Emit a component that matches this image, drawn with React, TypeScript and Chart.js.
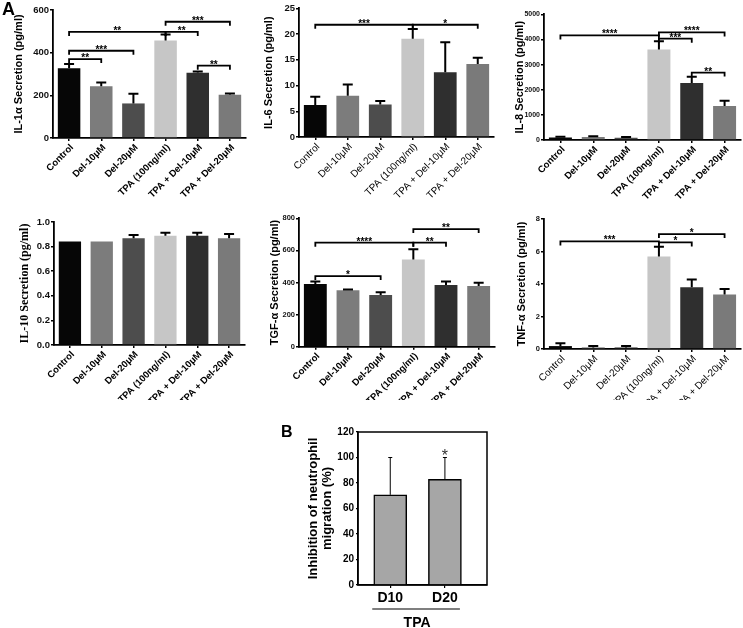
import React, { useEffect, useRef } from 'react';
import { Chart, registerables } from 'chart.js';

Chart.register(...registerables);

type Sig = [number, number, number, string];

const SANS = '"Liberation Sans", Arial, sans-serif';
const SERIF = '"Liberation Serif", "Times New Roman", serif';

const categories = ['Control', 'Del-10μM', 'Del-20μM', 'TPA (100ng/ml)', 'TPA + Del-10μM', 'TPA + Del-20μM'];
const barColors = ['#060606', '#7c7c7c', '#4d4d4d', '#c6c6c6', '#2f2f2f', '#7a7a7a'];

// IL-1α
const il1aValues = [327, 243, 162, 457, 306, 203];
const il1aSem = [20, 17, 46, 28, 6, 6];
const il1aTicks = [0, 200, 400, 600];
const il1aSig: Sig[] = [[0, 1, 370, '**'], [0, 2, 409, '***'], [0, 3, 497, '**'], [3, 4, 497, '**'], [3, 5, 545, '***'], [4, 5, 339, '**']];

// IL-6
const il6Values = [6.2, 8.0, 6.3, 19.1, 12.6, 14.2];
const il6Sem = [1.6, 2.2, 0.7, 1.9, 5.8, 1.2];
const il6Ticks = [0, 5, 10, 15, 20, 25];
const il6Sig: Sig[] = [[0, 3, 21.8, '***'], [3, 5, 21.8, '*']];

// IL-8
const il8Values = [100, 120, 90, 3600, 2270, 1350];
const il8Sem = [30, 30, 25, 330, 250, 210];
const il8Ticks = [0, 1000, 2000, 3000, 4000, 5000];
const il8Sig: Sig[] = [[0, 3, 4160, '****'], [3, 4, 4030, '***'], [3, 5, 4280, '****'], [4, 5, 2680, '**']];

// IL-10
const il10Values = [0.842, 0.841, 0.867, 0.889, 0.889, 0.867];
const il10Sem = [0, 0, 0.027, 0.024, 0.024, 0.035];
const il10Ticks = [0, 0.2, 0.4, 0.6, 0.8, 1.0];
const il10Sig: Sig[] = [];

// TGF-α
const tgfValues = [391, 351, 322, 544, 384, 378];
const tgfSem = [16, 6, 17, 63, 23, 21];
const tgfTicks = [0, 200, 400, 600, 800];
const tgfSig: Sig[] = [[0, 2, 440, '*'], [0, 3, 648, '****'], [3, 4, 648, '**'], [3, 5, 733, '**']];

// TNF-α
const tnfValues = [0.18, 0.1, 0.1, 5.7, 3.8, 3.35];
const tnfSem = [0.17, 0.08, 0.08, 0.6, 0.47, 0.35];
const tnfTicks = [0, 2, 4, 6, 8];
const tnfSig: Sig[] = [[0, 3, 6.62, '***'], [3, 4, 6.56, '*'], [3, 5, 7.07, '*']];

// Panel B
const bLabels = ['D10', 'D20'];
const bValues = [70.7, 82.8];
const bSem = [29.3, 17.2];
const bStars = ['', '*'];
const bTicks = [0, 20, 40, 60, 80, 100, 120];
const bGroupLabel = 'TPA';

interface Box { left: number; top: number; w: number; h: number }
interface Area { left: number; top: number; right: number; bottom: number }
interface PanelA {
  box: Box; area: Area; title: string; values: number[]; sem: number[]; sig: Sig[]; ticks: number[];
  titleFont: any; titlePad: number; xFont: any; yFont: any; fmt?: (v: number) => string;
}

function overlayA(p: PanelA) {
  return {
    id: 'overlayA',
    afterDatasetsDraw(chart: any) {
      const ctx = chart.ctx;
      const ys = chart.scales.y;
      const bars = chart.getDatasetMeta(0).data;
      ctx.save();
      ctx.strokeStyle = '#000';
      ctx.lineWidth = 2;
      p.values.forEach((v, i) => {
        const e = p.sem[i];
        if (!e) return;
        const x = bars[i].x;
        const y0 = ys.getPixelForValue(v);
        const y1 = ys.getPixelForValue(v + e);
        ctx.beginPath();
        ctx.moveTo(x, y0);
        ctx.lineTo(x, y1);
        ctx.moveTo(x - 5, y1);
        ctx.lineTo(x + 5, y1);
        ctx.stroke();
      });
      ctx.lineWidth = 1.8;
      ctx.fillStyle = '#000';
      ctx.font = `bold 10px ${SANS}`;
      ctx.textAlign = 'center';
      ctx.textBaseline = 'alphabetic';
      p.sig.forEach(([a, b, v, label]) => {
        const xa = bars[a].x;
        const xb = bars[b].x;
        const y = ys.getPixelForValue(v);
        ctx.beginPath();
        ctx.moveTo(xa, y + 4);
        ctx.lineTo(xa, y);
        ctx.lineTo(xb, y);
        ctx.lineTo(xb, y + 4);
        ctx.stroke();
        ctx.fillText(label, (xa + xb) / 2, y + 2);
      });
      ctx.restore();
    },
  };
}

function configA(p: PanelA): any {
  const padTop = p.area.top - p.box.top;
  const padRight = p.box.left + p.box.w - p.area.right;
  const xH = p.box.top + p.box.h - p.area.bottom;
  const yW = p.area.left - p.box.left;
  return {
    type: 'bar',
    data: {
      labels: categories,
      datasets: [{ data: p.values, backgroundColor: barColors, borderWidth: 0, barPercentage: 0.7, categoryPercentage: 1 }],
    },
    options: {
      animation: false,
      responsive: false,
      devicePixelRatio: 1,
      layout: { padding: { top: padTop, right: padRight, left: 0, bottom: 0 } },
      plugins: { legend: { display: false }, tooltip: { enabled: false } },
      scales: {
        x: {
          offset: true,
          grid: { offset: false, drawOnChartArea: false, drawTicks: true, tickLength: 3, color: '#000', lineWidth: 1.5 },
          border: { color: '#000', width: 1.8 },
          ticks: { autoSkip: false, minRotation: 45, maxRotation: 45, color: '#000', font: p.xFont, padding: 1, labelOffset: 3 },
          afterFit: (s: any) => { s.height = xH; },
        },
        y: {
          min: p.ticks[0],
          max: p.ticks[p.ticks.length - 1],
          ticks: {
            stepSize: p.ticks[1] - p.ticks[0],
            color: '#111',
            font: p.yFont,
            padding: 1,
            callback: (v: number) => (p.fmt ? p.fmt(v) : String(v)),
          },
          grid: { drawOnChartArea: false, drawTicks: true, tickLength: 3, color: '#000', lineWidth: 1.5 },
          border: { color: '#000', width: 1.8 },
          title: { display: true, text: p.title, color: '#000', font: p.titleFont, padding: { top: p.titlePad, bottom: 0 } },
          afterFit: (s: any) => { s.width = yW; },
        },
      },
    },
    plugins: [overlayA(p)],
  };
}

const boldX = { family: SANS, size: 9.5, weight: 'bold' };
const normX = { family: SANS, size: 10, weight: 'normal' };
const boldY = { family: SANS, size: 9.5, weight: 'bold' };
const smallY = { family: SANS, size: 7, weight: 'bold' };
const titleF = { family: SANS, size: 11, weight: 'bold' };

const panels: PanelA[] = [
  { box: { left: 0, top: 0, w: 250, h: 200 }, area: { left: 53, top: 10, right: 246, bottom: 138 }, title: 'IL-1α Secretion (pg/ml)',
    values: il1aValues, sem: il1aSem, sig: il1aSig, ticks: il1aTicks, titleFont: titleF, titlePad: 12.4, xFont: boldX, yFont: boldY },
  { box: { left: 250, top: 0, w: 250, h: 200 }, area: { left: 299, top: 8.3, right: 494, bottom: 137 }, title: 'IL-6 Secretion (pg/ml)',
    values: il6Values, sem: il6Sem, sig: il6Sig, ticks: il6Ticks, titleFont: titleF, titlePad: 12.4, xFont: normX, yFont: boldY },
  { box: { left: 495, top: 0, w: 248, h: 200 }, area: { left: 544, top: 14.3, right: 741, bottom: 140 }, title: 'IL-8 Secretion (pg/ml)',
    values: il8Values, sem: il8Sem, sig: il8Sig, ticks: il8Ticks, titleFont: titleF, titlePad: 18.4, xFont: boldX, yFont: smallY },
  { box: { left: 0, top: 200, w: 250, h: 200 }, area: { left: 54, top: 222, right: 245, bottom: 345 }, title: 'IL-10 Secretion (pg/ml)',
    values: il10Values, sem: il10Sem, sig: il10Sig, ticks: il10Ticks, titleFont: { family: SERIF, size: 12, weight: 'bold' }, titlePad: 18,
    xFont: boldX, yFont: boldY, fmt: (v: number) => v.toFixed(1) },
  { box: { left: 250, top: 200, w: 250, h: 200 }, area: { left: 299, top: 218.3, right: 495, bottom: 346.7 }, title: 'TGF-α Secretion (pg/ml)',
    values: tgfValues, sem: tgfSem, sig: tgfSig, ticks: tgfTicks, titleFont: titleF, titlePad: 18.4, xFont: boldX, yFont: { family: SANS, size: 7.5, weight: 'bold' } },
  { box: { left: 495, top: 200, w: 248, h: 200 }, area: { left: 544, top: 219, right: 741, bottom: 349 }, title: 'TNF-α Secretion (pg/ml)',
    values: tnfValues, sem: tnfSem, sig: tnfSig, ticks: tnfTicks, titleFont: titleF, titlePad: 20.4, xFont: normX, yFont: { family: SANS, size: 7.5, weight: 'bold' } },
];

const bBox: Box = { left: 230, top: 400, w: 280, h: 228 };
const bArea: Area = { left: 358, top: 432, right: 487, bottom: 585 };

function configB(): any {
  const padTop = bArea.top - bBox.top;
  const padRight = bBox.left + bBox.w - bArea.right;
  const xH = bBox.top + bBox.h - bArea.bottom;
  const yW = bArea.left - bBox.left;
  const overlay = {
    id: 'overlayB',
    afterDatasetsDraw(chart: any) {
      const ctx = chart.ctx;
      const ys = chart.scales.y;
      const xs = chart.scales.x;
      const bars = chart.getDatasetMeta(0).data;
      const ca = chart.chartArea;
      ctx.save();
      ctx.strokeStyle = '#000';
      ctx.lineWidth = 1;
      bValues.forEach((v, i) => {
        const x = bars[i].x;
        const y0 = ys.getPixelForValue(v);
        const y1 = ys.getPixelForValue(v + bSem[i]);
        ctx.beginPath();
        ctx.moveTo(x, y0);
        ctx.lineTo(x, y1);
        ctx.moveTo(x - 2, y1);
        ctx.lineTo(x + 2, y1);
        ctx.stroke();
        if (bStars[i]) {
          ctx.fillStyle = '#333';
          ctx.font = `16px ${SANS}`;
          ctx.textAlign = 'center';
          ctx.textBaseline = 'alphabetic';
          ctx.fillText(bStars[i], x, y1 + 3);
        }
      });
      ctx.lineWidth = 1.5;
      ctx.strokeRect(ca.left, ca.top, ca.right - ca.left, ca.bottom - ca.top);
      const x0 = xs.getPixelForValue(0) - 18;
      const x1 = xs.getPixelForValue(bLabels.length - 1) + 15;
      const yLine = ca.bottom + 24;
      ctx.lineWidth = 1.2;
      ctx.beginPath();
      ctx.moveTo(x0, yLine);
      ctx.lineTo(x1, yLine);
      ctx.stroke();
      ctx.fillStyle = '#000';
      ctx.font = `bold 14px ${SANS}`;
      ctx.textAlign = 'center';
      ctx.textBaseline = 'alphabetic';
      ctx.fillText(bGroupLabel, (x0 + x1) / 2 + 1, yLine + 18);
      ctx.restore();
    },
  };
  return {
    type: 'bar',
    data: {
      datasets: [{
        data: bValues.map((v, i) => ({ x: i, y: v })),
        backgroundColor: '#a6a6a6',
        borderColor: '#000',
        borderWidth: 1.5,
        barThickness: 33,
      }],
    },
    options: {
      animation: false,
      responsive: false,
      devicePixelRatio: 1,
      layout: { padding: { top: padTop, right: padRight, left: 0, bottom: 0 } },
      plugins: { legend: { display: false }, tooltip: { enabled: false } },
      scales: {
        x: {
          type: 'linear',
          offset: false,
          bounds: 'data',
          min: -0.59,
          max: 1.77,
          afterDataLimits: (s: any) => { s.min = -0.59; s.max = 1.77; },
          afterBuildTicks: (s: any) => { s.ticks = bLabels.map((_, i) => ({ value: i })); },
          ticks: { autoSkip: false, maxRotation: 0, color: '#000', font: { family: SANS, size: 14, weight: 'bold' }, padding: 2,
            callback: (v: number) => bLabels[v] ?? '' },
          grid: { offset: false, drawOnChartArea: false, drawTicks: true, tickLength: 3, color: '#000', lineWidth: 1.2 },
          border: { color: '#000', width: 1.5 },
          afterFit: (s: any) => { s.height = xH; },
        },
        y: {
          min: bTicks[0],
          max: bTicks[bTicks.length - 1],
          ticks: { stepSize: bTicks[1] - bTicks[0], color: '#000', font: { family: SANS, size: 10, weight: 'bold' }, padding: 2 },
          grid: { drawOnChartArea: false, drawTicks: true, tickLength: 2, color: '#000', lineWidth: 1.2 },
          border: { color: '#000', width: 1.5 },
          title: {
            display: true,
            text: ['Inhibition of neutrophil', 'migration (%)'],
            color: '#000',
            font: { family: SANS, size: 13, weight: 'bold', lineHeight: 1.1 },
            padding: { top: 76, bottom: 0 },
          },
          afterFit: (s: any) => { s.width = yW; },
        },
      },
    },
    plugins: [overlay],
  };
}

function ChartCanvas({ box, make }: { box: Box; make: () => any }) {
  const ref = useRef<HTMLCanvasElement>(null);
  useEffect(() => {
    if (!ref.current) return;
    const chart = new Chart(ref.current, make());
    return () => chart.destroy();
  }, []);
  return (
    <canvas
      ref={ref}
      width={box.w}
      height={box.h}
      style={{ position: 'absolute', left: box.left, top: box.top, width: box.w, height: box.h }}
    />
  );
}

export default function App() {
  return (
    <div style={{ position: 'absolute', left: 0, top: 0, width: 743, height: 628, background: '#fff', overflow: 'hidden' }}>
      {panels.map((p, i) => (
        <ChartCanvas key={i} box={p.box} make={() => configA(p)} />
      ))}
      <ChartCanvas box={bBox} make={configB} />
      <div style={{ position: 'absolute', left: 2, top: 0, font: `bold 18px ${SANS}`, lineHeight: '18px', color: '#000' }}>A</div>
      <div style={{ position: 'absolute', left: 281, top: 424, font: `bold 16px ${SANS}`, lineHeight: '16px', color: '#000' }}>B</div>
    </div>
  );
}
